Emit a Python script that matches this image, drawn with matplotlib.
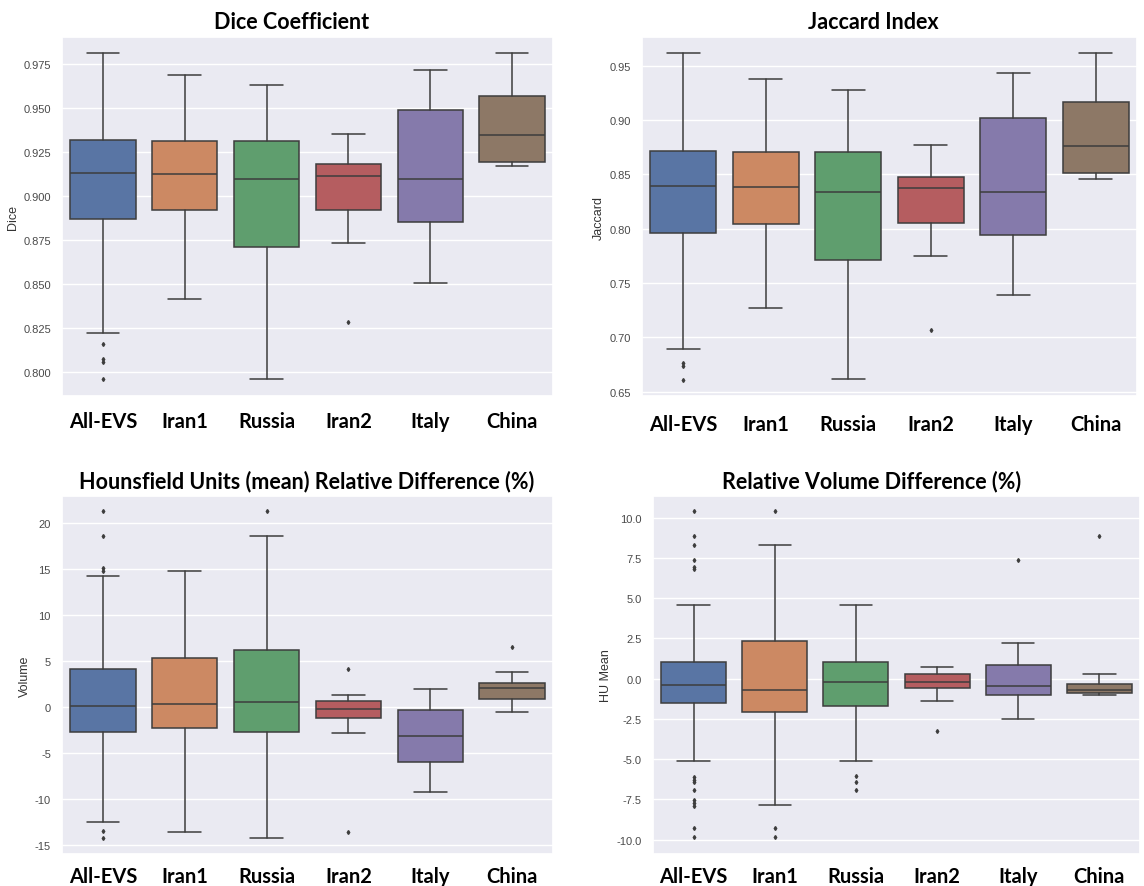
import matplotlib
matplotlib.use("Agg")
import matplotlib.pyplot as plt
import seaborn as sns

sns.set_theme(style="darkgrid")
plt.rcParams['font.family'] = ['Liberation Sans', 'DejaVu Sans']

sites = ["All-EVS", "Iran1", "Russia", "Iran2", "Italy", "China"]

# Dice coefficient box stats
dice_low = [0.822, 0.8417, 0.7958, 0.8731, 0.8504, 0.9169]
dice_q1 = [0.887, 0.8919, 0.8708, 0.8922, 0.8854, 0.9195]
dice_med = [0.9132, 0.9125, 0.9095, 0.9115, 0.9095, 0.9345]
dice_q3 = [0.932, 0.9311, 0.9314, 0.9184, 0.9489, 0.957]
dice_high = [0.9813, 0.9688, 0.9629, 0.935, 0.9718, 0.9813]
dice_out = [[0.8159, 0.8074, 0.8057, 0.796], [], [], [0.8286], [], []]

# Jaccard index box stats
jac_low = [0.6893, 0.7273, 0.6614, 0.7746, 0.7393, 0.8454]
jac_q1 = [0.796, 0.804, 0.7712, 0.8052, 0.7945, 0.8515]
jac_med = [0.8396, 0.8384, 0.834, 0.8372, 0.834, 0.8764]
jac_q3 = [0.8715, 0.8703, 0.8703, 0.8479, 0.9021, 0.9163]
jac_high = [0.9617, 0.9378, 0.9274, 0.8773, 0.9436, 0.9617]
jac_out = [[0.6764, 0.6739, 0.661], [], [], [0.7071], [], []]

# HU mean relative difference (%) box stats
hu_low = [-12.41, -13.5, -14.15, -2.79, -9.16, -0.54]
hu_q1 = [-2.64, -2.21, -2.64, -1.19, -5.97, 0.87]
hu_med = [0.18, 0.33, 0.58, -0.18, -3.15, 2.14]
hu_q3 = [4.16, 5.32, 6.23, 0.69, -0.33, 2.64]
hu_high = [14.26, 14.8, 18.57, 1.3, 1.99, 3.87]
hu_out = [[21.28, 18.57, 15.09, 14.84, -13.39, -14.15], [], [21.28],
          [4.16, -13.5], [], [6.51]]

# relative volume difference (%) box stats
vol_low = [-5.14, -7.85, -5.14, -1.37, -2.51, -1.04]
vol_q1 = [-1.53, -2.05, -1.68, -0.6, -0.99, -0.91]
vol_med = [-0.37, -0.68, -0.23, -0.23, -0.48, -0.68]
vol_q3 = [1.02, 2.32, 1.02, 0.29, 0.85, -0.33]
vol_high = [4.58, 8.29, 4.58, 0.7, 2.22, 0.27]
vol_out = [[10.4, 8.85, 8.29, 7.4, 6.96, 6.84, -6.13, -6.28, -6.45, -6.92,
            -7.54, -7.73, -7.9, -9.26, -9.87],
           [10.4, -9.26, -9.87],
           [-6.07, -6.45, -6.92],
           [-3.25], [7.4], [8.85]]

colors = sns.color_palette("deep", 6, desat=0.75)
line_gray = "#3d3d3d"

W, H = 1144, 887
fig = plt.figure(figsize=(W / 100, H / 100), dpi=100)


def make_axes(x0, y0, x1, y1):
    return fig.add_axes([x0 / W, 1 - y1 / H, (x1 - x0) / W, (y1 - y0) / H])


def draw_panel(ax, low, q1, med, q3, high, out, ylim, yticks, fmt, ylabel,
               title, title_x, title_y, label_pad):
    stats = []
    for i in range(len(sites)):
        stats.append(dict(whislo=low[i], q1=q1[i], med=med[i], q3=q3[i],
                          whishi=high[i], fliers=out[i], label=sites[i]))
    bp = ax.bxp(stats, positions=range(len(sites)), widths=0.8,
                patch_artist=True, showfliers=True,
                boxprops=dict(edgecolor=line_gray, linewidth=1.1),
                medianprops=dict(color=line_gray, linewidth=1.1),
                whiskerprops=dict(color=line_gray, linewidth=1.1),
                capprops=dict(color=line_gray, linewidth=1.1),
                capwidths=0.4,
                flierprops=dict(marker="d", markersize=2,
                                markerfacecolor=line_gray,
                                markeredgecolor=line_gray))
    for patch, c in zip(bp["boxes"], colors):
        patch.set_facecolor(c)
    ax.set_xlim(-0.5, len(sites) - 0.5)
    ax.set_ylim(*ylim)
    ax.set_yticks(yticks)
    ax.set_yticklabels([fmt.format(v) for v in yticks])
    ax.tick_params(axis="y", labelsize=8, labelcolor="#4a4a4a", pad=2)
    ax.tick_params(axis="x", labelsize=14.5, pad=label_pad)
    for lab in ax.get_xticklabels():
        lab.set_fontfamily("Lato")
        lab.set_fontweight("bold")
        lab.set_color("black")
    ax.grid(axis="x", visible=False)
    ax.set_ylabel(ylabel, fontsize=9, color="#333333", labelpad=3)
    fig.text(title_x / W, 1 - title_y / H, title, ha="center",
             va="baseline", fontsize=15.5, fontweight="bold",
             fontfamily="Lato", color="black")


ax1 = make_axes(62, 38, 553, 397)
draw_panel(ax1, dice_low, dice_q1, dice_med, dice_q3, dice_high, dice_out,
           (0.7864, 0.9903), [0.800, 0.825, 0.850, 0.875, 0.900, 0.925, 0.950, 0.975],
           "{:.3f}", "Dice", "Dice Coefficient", 292, 29, 5)

ax2 = make_axes(642, 38, 1137, 397)
draw_panel(ax2, jac_low, jac_q1, jac_med, jac_q3, jac_high, jac_out,
           (0.646, 0.9764), [0.65, 0.70, 0.75, 0.80, 0.85, 0.90, 0.95],
           "{:.2f}", "Jaccard", "Jaccard Index", 873, 29, 7)

ax3 = make_axes(62, 497, 553, 855)
draw_panel(ax3, hu_low, hu_q1, hu_med, hu_q3, hu_high, hu_out,
           (-15.93, 22.95), [-15, -10, -5, 0, 5, 10, 15, 20],
           "{:.0f}", "Volume", "Hounsfield Units (mean) Relative Difference (%)",
           307, 488, 3)

ax4 = make_axes(653, 497, 1140, 855)
draw_panel(ax4, vol_low, vol_q1, vol_med, vol_q3, vol_high, vol_out,
           (-10.9, 11.36), [-10.0, -7.5, -5.0, -2.5, 0.0, 2.5, 5.0, 7.5, 10.0],
           "{:.1f}", "HU Mean", "Relative Volume Difference (%)", 872, 488, 3)

fig.savefig("out.png", dpi=100)
